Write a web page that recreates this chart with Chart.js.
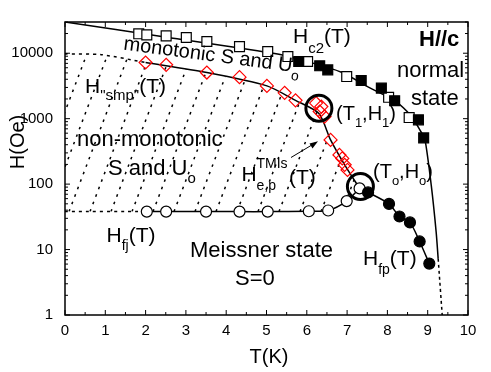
<!DOCTYPE html>
<html>
<head>
<meta charset="utf-8">
<script src="https://cdn.jsdelivr.net/npm/chart.js@4.4.0/dist/chart.umd.min.js"></script>
<style>
  body { margin: 0; background: #fff; }
</style>
</head>
<body>
<canvas id="myChart" width="491" height="372"></canvas>
<script>
// values (T in K, H in Oe)
const hc2OpenT = [1.83, 2.03, 2.51, 3.01, 3.52, 4.33, 5.03, 5.53, 6.02, 6.99, 8.03, 8.54];
const hc2OpenH = [19800, 19100, 18400, 17400, 15100, 12600, 10600, 8900, 7470, 4400, 2120, 1040];
const hc2FilledT = [5.80, 6.32, 6.52, 7.35, 7.85, 8.18, 8.77, 8.90];
const hc2FilledH = [7470, 6420, 5570, 3830, 2930, 1880, 960, 508];
const hc2LineT = [0, 2.52, 5.31, 5.80, 6.86, 7.53, 8.19, 8.59, 8.84, 8.93, 9.09, 9.21, 9.26];
const hc2LineH = [30000, 17600, 9660, 8100, 5130, 3030, 1860, 1100, 620, 490, 94, 18.5, 7.2];
const hc2TailT = [9.26, 9.36];
const hc2TailH = [7.2, 1];

const smpT = [2.00, 2.51, 3.52, 4.33, 5.01, 5.45, 5.72, 6.23, 6.36, 6.32, 6.44, 6.59, 6.81, 6.88, 6.94, 7.01];
const smpH = [7210, 6650, 5070, 4310, 3170, 2480, 1905, 1730, 1530, 1285, 1077, 474, 279, 247, 197, 165];
const smpLineT = [2.00, 3.52, 5.01, 5.72, 6.30, 6.59, 6.94, 7.31];
const smpLineH = [7210, 5070, 3170, 1905, 1200, 474, 197, 86];
const smpDotT = [0, 0.9, 2.00];
const smpDotH = [9800, 9500, 7210];

const fjT = [2.03, 2.51, 3.50, 4.33, 5.03, 6.05, 6.53, 6.99, 7.31];
const fjH = [38, 38, 38, 38, 38, 38.5, 39.5, 55, 86];
const fjDotT = [0, 2.03];
const fjDotH = [38, 38];

const fpT = [7.31, 7.52, 8.04, 8.30, 8.56, 8.80, 9.04];
const fpH = [86, 74.7, 49.8, 32, 26, 13.3, 6.1];

// (T1,H1) and (To,Ho) rings
const ringT = [6.30, 7.33];
const ringH = [1446, 92];

const xTickLabels = [0, 1, 2, 3, 4, 5, 6, 7, 8, 9, 10];
const yTickLabels = [1, 10, 100, 1000, 10000];

const FONT = '"Liberation Sans", Arial, Helvetica, sans-serif';
Chart.defaults.font.family = FONT;
Chart.defaults.color = '#000';

function pts(xs, ys) {
  return xs.map((x, i) => ({ x: x, y: ys[i] }));
}

function marks(xs, ys, style, r, border, fill, bw) {
  return {
    data: pts(xs, ys), showLine: false, pointStyle: style, pointRadius: r,
    pointBorderColor: border, pointBackgroundColor: fill, pointBorderWidth: bw || 1.2
  };
}

function line(xs, ys, dash, w) {
  return {
    data: pts(xs, ys), showLine: true, pointRadius: 0, borderColor: '#000',
    borderWidth: w || 1.5, borderDash: dash || [], tension: 0.25, fill: false
  };
}

function rich(ctx, x, y, parts) {
  parts.forEach(p => {
    ctx.font = (p.b ? 'bold ' : '') + p.s + 'px ' + FONT;
    ctx.fillText(p.t, x, y + (p.dy || 0));
    x += ctx.measureText(p.t).width;
  });
}

// hatching, frame, inward ticks, labels
const decor = {
  id: 'decor',
  beforeDatasetsDraw(chart) {
    const ctx = chart.ctx, sx = chart.scales.x, sy = chart.scales.y;
    const a = chart.chartArea;
    ctx.save();
    ctx.beginPath();
    smpDotT.forEach((t, i) => ctx.lineTo(sx.getPixelForValue(t), sy.getPixelForValue(smpDotH[i])));
    smpLineT.forEach((t, i) => ctx.lineTo(sx.getPixelForValue(t), sy.getPixelForValue(smpLineH[i])));
    for (let i = fjT.length - 1; i >= 0; i--) ctx.lineTo(sx.getPixelForValue(fjT[i]), sy.getPixelForValue(fjH[i]));
    ctx.lineTo(sx.getPixelForValue(0), sy.getPixelForValue(38));
    ctx.closePath();
    ctx.clip();
    ctx.strokeStyle = '#000';
    ctx.lineWidth = 1.5;
    ctx.setLineDash([2.5, 5.5]);
    const yb = sy.getPixelForValue(38), yt = a.top;
    for (let x0 = a.left - 80; x0 < a.right; x0 += 21) {
      ctx.beginPath();
      ctx.moveTo(x0, yb);
      ctx.lineTo(x0 + 0.38 * (yb - yt), yt);
      ctx.stroke();
    }
    ctx.restore();
  },
  afterDraw(chart) {
    const ctx = chart.ctx, sx = chart.scales.x, sy = chart.scales.y;
    const a = chart.chartArea;
    ctx.save();
    ctx.strokeStyle = '#000';
    ctx.lineWidth = 1.5;
    ctx.strokeRect(a.left, a.top, a.right - a.left, a.bottom - a.top);

    ctx.lineWidth = 1;
    ctx.beginPath();
    for (let v = 0; v <= 10; v += 0.5) {
      const x = sx.getPixelForValue(v);
      const len = Number.isInteger(v) ? 5 : 3;
      ctx.moveTo(x, a.bottom); ctx.lineTo(x, a.bottom - len);
      ctx.moveTo(x, a.top); ctx.lineTo(x, a.top + len);
    }
    for (let d = 1; d <= 10000; d *= 10) {
      for (let m = 1; m <= 9; m++) {
        const v = m * d;
        if (v > 30000) break;
        const y = sy.getPixelForValue(v);
        const len = m === 1 ? 5 : 3;
        ctx.moveTo(a.left, y); ctx.lineTo(a.left + len, y);
        ctx.moveTo(a.right, y); ctx.lineTo(a.right - len, y);
      }
    }
    ctx.stroke();

    // arrow to the TMIs points
    ctx.beginPath();
    ctx.moveTo(291, 157.5); ctx.lineTo(316, 142.5);
    ctx.stroke();
    ctx.beginPath();
    ctx.moveTo(318, 141.3); ctx.lineTo(309.5, 143.6); ctx.lineTo(312.5, 148.6);
    ctx.closePath();
    ctx.fillStyle = '#000';
    ctx.fill();

    ctx.fillStyle = '#000';
    ctx.textBaseline = 'alphabetic';
    // axis titles
    ctx.font = '20px ' + FONT;
    ctx.textAlign = 'center';
    ctx.fillText('T(K)', 269, 363);
    ctx.save();
    ctx.translate(24, 142);
    ctx.rotate(-Math.PI / 2);
    ctx.fillText('H(Oe)', 0, 0);
    ctx.restore();
    ctx.textAlign = 'left';

    rich(ctx, 293, 43, [{ t: 'H', s: 21 }, { t: 'c2', s: 15, dy: 10 }, { t: '(T)', s: 21 }]);
    rich(ctx, 419, 46, [{ t: 'H//c', s: 22, b: true }]);
    rich(ctx, 397, 77, [{ t: 'normal', s: 22 }]);
    rich(ctx, 411, 105, [{ t: 'state', s: 22 }]);

    ctx.save();
    ctx.translate(123, 49.5);
    ctx.rotate(7.5 * Math.PI / 180);
    rich(ctx, 0, 0, [{ t: 'monotonic S and U', s: 20 }, { t: 'o', s: 14, dy: 8 }]);
    ctx.restore();

    rich(ctx, 85, 93, [{ t: 'H', s: 21 }, { t: '"smp"', s: 15, dy: 7 }, { t: '(T)', s: 21 }]);
    rich(ctx, 77, 146, [{ t: 'non-monotonic', s: 22 }]);
    rich(ctx, 108, 175, [{ t: 'S and U', s: 22 }, { t: 'o', s: 15, dy: 8 }]);

    rich(ctx, 241.5, 181, [{ t: 'H', s: 21 }]);
    rich(ctx, 256.5, 168, [{ t: 'TMIs', s: 14 }]);
    rich(ctx, 256.5, 190, [{ t: 'e,p', s: 14 }]);
    rich(ctx, 289, 184, [{ t: '(T)', s: 21 }]);

    rich(ctx, 336, 120, [{ t: '(T', s: 20 }, { t: '1', s: 13, dy: 7 }, { t: ',H', s: 20 }, { t: '1', s: 13, dy: 7 }, { t: ')', s: 20 }]);
    rich(ctx, 373, 178, [{ t: '(T', s: 20 }, { t: 'o', s: 13, dy: 7 }, { t: ',H', s: 20 }, { t: 'o', s: 13, dy: 7 }, { t: ')', s: 20 }]);

    rich(ctx, 106.5, 242, [{ t: 'H', s: 21 }, { t: 'fj', s: 14, dy: 8 }, { t: '(T)', s: 21 }]);
    rich(ctx, 190, 257, [{ t: 'Meissner state', s: 22 }]);
    rich(ctx, 235, 285, [{ t: 'S=0', s: 22 }]);
    rich(ctx, 363, 265, [{ t: 'H', s: 21 }, { t: 'fp', s: 14, dy: 9 }, { t: '(T)', s: 21 }]);
    ctx.restore();
  }
};

new Chart('myChart', {
  type: 'scatter',
  data: {
    datasets: [
      marks(ringT, ringH, 'circle', 13, '#000', 'rgba(0,0,0,0)', 3),
      marks(fpT.slice(1), fpH.slice(1), 'circle', 5.5, '#000', '#000'),
      marks(fjT, fjH, 'circle', 5.5, '#000', '#fff'),
      marks(smpT, smpH, 'rectRot', 6.5, '#ff0000', 'rgba(0,0,0,0)'),
      marks(hc2FilledT, hc2FilledH, 'rect', 7, '#000', '#000'),
      marks(hc2OpenT, hc2OpenH, 'rect', 7, '#000', '#fff'),
      line(hc2LineT, hc2LineH),
      line(hc2TailT, hc2TailH, [3, 3]),
      line(smpLineT, smpLineH),
      line(smpDotT, smpDotH, [3, 4]),
      line(fjT, fjH),
      line(fjDotT, fjDotH, [3, 4]),
      line(fpT, fpH)
    ]
  },
  options: {
    responsive: false,
    animation: false,
    devicePixelRatio: 1,
    plugins: { legend: { display: false }, tooltip: { enabled: false } },
    layout: { padding: { left: 0, top: 22, right: 23, bottom: 0 } },
    scales: {
      x: {
        type: 'linear', min: 0, max: 10,
        grid: { display: false, drawTicks: false },
        border: { display: false },
        ticks: { stepSize: 1, font: { size: 15 }, padding: 7, maxRotation: 0 },
        afterBuildTicks(s) { s.ticks = xTickLabels.map(v => ({ value: v })); },
        afterFit(s) { s.height = 57; }
      },
      y: {
        type: 'logarithmic', min: 1, max: 30000,
        grid: { display: false, drawTicks: false },
        border: { display: false },
        ticks: { font: { size: 15 }, padding: 12, callback: v => String(v) },
        afterBuildTicks(s) { s.ticks = yTickLabels.map(v => ({ value: v })); },
        afterFit(s) { s.width = 65; }
      }
    }
  },
  plugins: [decor]
});
</script>
</body>
</html>
